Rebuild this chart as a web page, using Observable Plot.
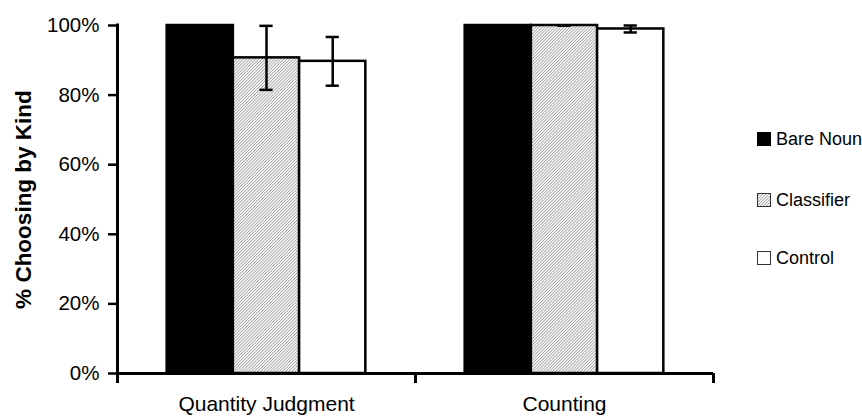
<!DOCTYPE html>
<html><head><meta charset="utf-8">
<script src="https://cdn.jsdelivr.net/npm/d3@7"></script>
<script src="https://cdn.jsdelivr.net/npm/@observablehq/plot@0.6"></script>
<style>
body{margin:0;background:#fff;}
#wrap{position:relative;width:862px;height:418px;font-family:"Liberation Sans",Arial,sans-serif;color:#000;}
.leg{position:absolute;left:757px;height:20px;display:flex;align-items:center;font-size:18px;white-space:nowrap;}
.leg svg{margin-right:5px;display:block;}
#wrap [aria-label^="y-axis tick"] path, #wrap [aria-label^="y-axis"] line{stroke-width:2.5px;}
#wrap [aria-label="y-axis label"], #wrap [aria-label^="y-axis"] .label{font-weight:bold;font-size:22.5px;}
#wrap [aria-label^="fx-axis"] text{font-size:21px;}
</style></head><body><div id="wrap"></div>
<script>
const categories = ["Quantity Judgment", "Counting"];
const series = ["Bare Noun", "Classifier", "Control"];
const quantityValues = [1.0, 0.907, 0.897];
const quantityErrors = [0.0, 0.092, 0.070];
const countingValues = [1.0, 1.0, 0.990];
const countingErrors = [0.0, 0.0, 0.010];
const yTicks = [0, 0.2, 0.4, 0.6, 0.8, 1.0];
const seriesFills = ["black", "url(#hatch)", "white"];

const valuesBy = [quantityValues, countingValues];
const errorsBy = [quantityErrors, countingErrors];
const rows = [];
categories.forEach((c, i) => series.forEach((s, j) => {
  const v = valuesBy[i][j], e = errorsBy[i][j];
  rows.push({category: c, series: s, value: v, lo: v - e, hi: v + e});
}));

const bw = 298 / (series.length + 1.5);
const edge = 1.25 * bw;

const chart = Plot.plot({
  width: 862, height: 418,
  marginLeft: 117, marginRight: 149, marginTop: 25, marginBottom: 45,
  style: {fontFamily: "Liberation Sans, Arial, sans-serif", fontSize: "20.5px", color: "black", background: "white"},
  fx: {domain: categories, padding: 0, label: null, tickSize: 0, tickPadding: 23, round: false},
  x: {domain: series, axis: null, paddingInner: 0, paddingOuter: 0.75, round: false},
  y: {domain: [0, 1], ticks: yTicks, tickFormat: d3.format(".0%"), tickSize: 9, tickPadding: 9,
      label: "% Choosing by Kind", labelArrow: "none", labelAnchor: "center", labelOffset: 102},
  color: {domain: series, range: seriesFills},
  marks: [
    Plot.barY(rows, {fx: "category", x: "series", y: "value", fill: "series", stroke: "black", strokeWidth: 2.5}),
    Plot.ruleX(rows, {fx: "category", x: "series", y1: "lo", y2: "hi", stroke: "black", strokeWidth: 2.5}),
    Plot.tickY(rows, {fx: "category", x: "series", y: "lo", stroke: "black", strokeWidth: 2.5, insetLeft: 26.5, insetRight: 26.5}),
    Plot.tickY(rows, {fx: "category", x: "series", y: "hi", stroke: "black", strokeWidth: 2.5, insetLeft: 26.5, insetRight: 26.5}),
    Plot.ruleY([0], {stroke: "black", strokeWidth: 3}),
    Plot.ruleX(categories.map(c => ({category: c})), {fx: "category", x: () => series[series.length - 1], y1: 0, y2: 0, insetBottom: -10, dx: edge, stroke: "black", strokeWidth: 3}),
    Plot.ruleX([{category: categories[0]}], {fx: "category", x: () => series[0], y1: 1, y2: 0, insetTop: -1.5, insetBottom: -10, dx: -edge, stroke: "black", strokeWidth: 3})
  ]
});

const svg = chart.tagName.toLowerCase() === "svg" ? chart : chart.querySelector("svg");
const defs = d3.select(svg).insert("defs", ":first-child");
const pat = defs.append("pattern").attr("id", "hatch").attr("patternUnits", "userSpaceOnUse")
  .attr("width", 2.2).attr("height", 2.2).attr("patternTransform", "rotate(45)");
pat.append("rect").attr("width", 2.2).attr("height", 2.2).attr("fill", "#ffffff");
pat.append("rect").attr("width", 0.9).attr("height", 2.2).attr("fill", "#a2a2a2");

const wrap = document.getElementById("wrap");
wrap.appendChild(chart);

const legendCenters = [139, 200, 258];
series.forEach((s, i) => {
  const d = document.createElement("div");
  d.className = "leg";
  d.style.top = (legendCenters[i] - 10) + "px";
  const fill = i === 1 ? "url(#hatchL)" : seriesFills[i];
  const stroke = i === 0 ? "black" : "#333";
  d.innerHTML = `<svg width="14" height="14">${i === 1 ? `<defs><pattern id="hatchL" patternUnits="userSpaceOnUse" width="2.2" height="2.2" patternTransform="rotate(45)"><rect width="2.2" height="2.2" fill="#ffffff"/><rect width="0.9" height="2.2" fill="#a2a2a2"/></pattern></defs>` : ""}<rect x="0.5" y="0.5" width="13" height="13" fill="${fill}" stroke="${stroke}" stroke-width="1"/></svg><span>${s}</span>`;
  wrap.appendChild(d);
});
</script>
</body></html>
